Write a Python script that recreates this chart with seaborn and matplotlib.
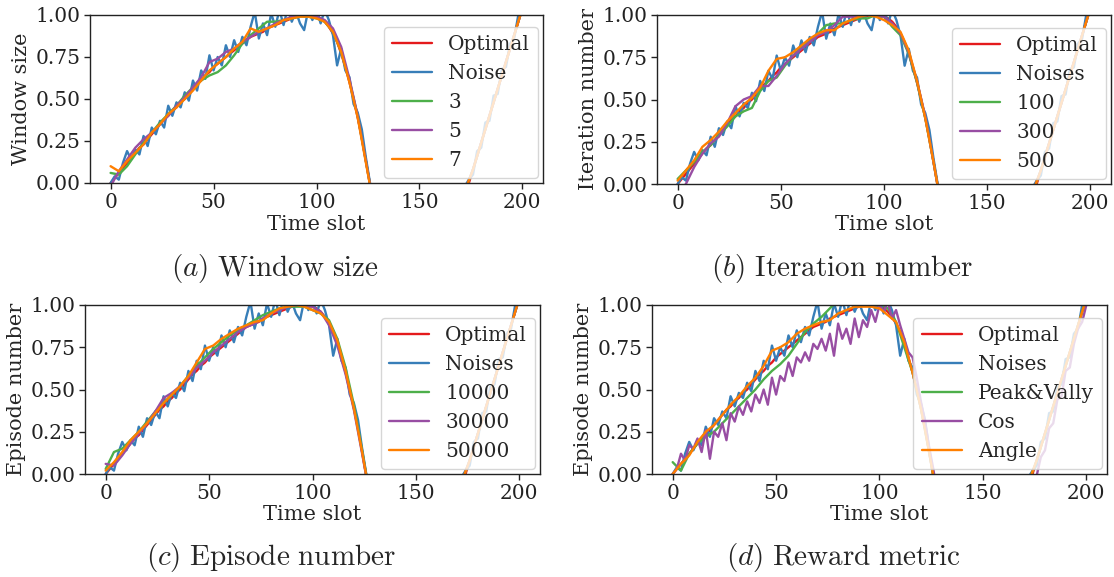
import numpy as np
import matplotlib
matplotlib.use("Agg")
import matplotlib.pyplot as plt
import seaborn as sns

# ---------------- data ----------------
x_fine = list(range(0, 201, 2))     # time slots for noisy series
x_coarse = list(range(0, 201, 4))   # time slots for smooth series

optimal = [0.00, 0.03, 0.06, 0.09, 0.12, 0.15, 0.18, 0.21, 0.23, 0.26,
           0.29, 0.32, 0.35, 0.38, 0.40, 0.43, 0.45, 0.48, 0.50, 0.53,
           0.56, 0.59, 0.61, 0.64, 0.66, 0.69, 0.71, 0.73, 0.75, 0.77,
           0.79, 0.81, 0.83, 0.85, 0.87, 0.88, 0.89, 0.90, 0.92, 0.93,
           0.94, 0.95, 0.96, 0.97, 0.98, 0.99, 0.995, 1.00, 1.00, 0.995,
           0.99, 0.98, 0.96, 0.93, 0.89, 0.84, 0.77, 0.69, 0.60, 0.50,
           0.39, 0.27, 0.13, -0.01, -0.15, -0.28, -0.40, -0.52, -0.62, -0.71,
           -0.79, -0.86, -0.91, -0.95, -0.97, -0.98, -0.97, -0.94, -0.89, -0.82,
           -0.73, -0.62, -0.50, -0.37, -0.24, -0.13, -0.05, 0.00, 0.08, 0.16,
           0.24, 0.32, 0.40, 0.48, 0.56, 0.64, 0.72, 0.80, 0.88, 0.96, 1.04]

noise = [0.00, 0.04, 0.02, 0.12, 0.19, 0.14, 0.20, 0.17, 0.28, 0.22,
         0.33, 0.29, 0.37, 0.33, 0.46, 0.40, 0.48, 0.45, 0.54, 0.49,
         0.61, 0.55, 0.67, 0.62, 0.76, 0.67, 0.75, 0.70, 0.82, 0.75,
         0.85, 0.78, 0.87, 0.82, 0.93, 1.02, 0.86, 0.95, 0.88, 1.01,
         0.93, 1.03, 0.94, 1.04, 0.96, 1.02, 0.95, 0.91, 1.03, 0.97,
         1.04, 0.95, 1.03, 0.97, 0.88, 0.70, 0.80, 0.67, 0.63, 0.47,
         0.42, 0.32, 0.15, 0.00, -0.13, -0.31, -0.38, -0.55, -0.60, -0.74,
         -0.77, -0.89, -0.89, -0.98, -0.95, -1.01, -0.95, -0.97, -0.86, -0.85,
         -0.70, -0.65, -0.47, -0.40, -0.21, -0.16, -0.02, 0.02, 0.05, 0.19,
         0.21, 0.36, 0.37, 0.52, 0.53, 0.68, 0.69, 0.83, 0.86, 1.00, 1.05]

# tail (x = 128..200 step 4) shared by smooth variants
tail = [-0.15, -0.40, -0.62, -0.79, -0.91, -0.97, -0.97, -0.89, -0.73, -0.50,
        -0.24, -0.05, 0.08, 0.24, 0.40, 0.56, 0.72, 0.88, 1.04]

win_3 = [0.06, 0.05, 0.10, 0.17, 0.24, 0.30, 0.36, 0.41, 0.46, 0.52, 0.57, 0.61, 0.64, 0.66, 0.70, 0.76,
         0.83, 0.88, 0.92, 0.96, 0.96, 0.97, 0.98, 0.99, 0.99, 0.98, 0.96, 0.90, 0.78, 0.61, 0.40, 0.13] + tail
win_5 = [-0.02, 0.07, 0.14, 0.21, 0.26, 0.30, 0.35, 0.40, 0.46, 0.51, 0.57, 0.63, 0.72, 0.74, 0.78, 0.80,
         0.84, 0.87, 0.90, 0.92, 0.95, 0.97, 0.99, 1.00, 1.00, 0.99, 0.97, 0.92, 0.81, 0.62, 0.40, 0.13] + tail
win_7 = [0.10, 0.07, 0.13, 0.18, 0.23, 0.30, 0.35, 0.41, 0.45, 0.50, 0.55, 0.61, 0.67, 0.71, 0.75, 0.80,
         0.84, 0.92, 0.90, 0.92, 0.94, 0.97, 0.98, 0.99, 0.99, 0.98, 0.96, 0.90, 0.78, 0.60, 0.39, 0.12] + tail

it_100 = [0.03, 0.08, 0.13, 0.19, 0.23, 0.29, 0.34, 0.40, 0.43, 0.45, 0.55, 0.61, 0.63, 0.70, 0.76, 0.81,
          0.85, 0.89, 0.94, 0.95, 0.95, 0.97, 0.98, 0.98, 1.00, 0.99, 0.93, 0.88, 0.77, 0.60, 0.39, 0.13] + tail
it_300 = [-0.05, 0.00, 0.10, 0.18, 0.24, 0.28, 0.36, 0.46, 0.50, 0.52, 0.58, 0.58, 0.64, 0.71, 0.76, 0.80,
          0.84, 0.88, 0.90, 0.94, 0.99, 0.99, 0.99, 1.00, 1.00, 0.99, 0.95, 0.89, 0.78, 0.61, 0.40, 0.13] + tail
it_500 = [0.02, 0.08, 0.14, 0.22, 0.26, 0.31, 0.37, 0.42, 0.47, 0.51, 0.57, 0.67, 0.74, 0.75, 0.78, 0.82,
          0.86, 0.89, 0.91, 0.91, 0.95, 0.97, 0.99, 1.00, 0.99, 0.97, 0.94, 0.90, 0.79, 0.61, 0.39, 0.13] + tail

ep_10000 = [0.03, 0.13, 0.15, 0.20, 0.25, 0.31, 0.37, 0.42, 0.47, 0.52, 0.58, 0.64, 0.69, 0.74, 0.78, 0.82,
            0.85, 0.88, 0.91, 0.94, 0.96, 0.98, 0.99, 0.99, 0.99, 0.97, 0.95, 0.91, 0.80, 0.63, 0.41, 0.14] + tail
ep_30000 = [0.06, 0.05, 0.11, 0.18, 0.24, 0.30, 0.37, 0.45, 0.48, 0.52, 0.57, 0.63, 0.67, 0.72, 0.76, 0.80,
            0.84, 0.87, 0.89, 0.92, 0.95, 0.97, 0.99, 1.00, 1.00, 0.99, 0.96, 0.88, 0.76, 0.59, 0.38, 0.12] + tail
ep_50000 = [0.02, 0.07, 0.13, 0.20, 0.25, 0.30, 0.36, 0.42, 0.47, 0.52, 0.58, 0.66, 0.74, 0.76, 0.80, 0.83,
            0.86, 0.88, 0.90, 0.91, 0.95, 0.98, 0.99, 1.00, 0.99, 0.97, 0.95, 0.90, 0.79, 0.61, 0.39, 0.13] + tail

rw_peak = [0.07, 0.02, 0.12, 0.18, 0.22, 0.25, 0.30, 0.35, 0.40, 0.45, 0.50, 0.56, 0.61, 0.65, 0.70, 0.77,
           0.84, 0.89, 0.93, 0.98, 1.03, 1.04, 1.03, 1.02, 1.01, 1.01, 0.98, 0.90, 0.75, 0.60, 0.39, 0.13] + tail
rw_angle = [0.00, 0.06, 0.11, 0.19, 0.25, 0.29, 0.35, 0.41, 0.46, 0.52, 0.57, 0.64, 0.73, 0.75, 0.78, 0.83,
            0.86, 0.88, 0.90, 0.91, 0.95, 0.97, 0.99, 0.99, 0.99, 0.98, 0.94, 0.90, 0.78, 0.60, 0.39, 0.13] + tail
rw_cos = [0.00, 0.03, 0.12, 0.08, 0.17, 0.15, 0.21, 0.13, 0.26, 0.09,
          0.25, 0.22, 0.30, 0.20, 0.36, 0.31, 0.40, 0.35, 0.43, 0.37,
          0.47, 0.42, 0.50, 0.41, 0.57, 0.47, 0.58, 0.55, 0.66, 0.58,
          0.69, 0.66, 0.72, 0.67, 0.77, 0.74, 0.80, 0.73, 0.83, 0.70,
          0.89, 0.80, 0.86, 0.77, 0.92, 0.81, 0.91, 0.87, 0.97, 0.90,
          1.00, 0.96, 1.02, 0.92, 0.97, 0.88, 0.80, 0.72, 0.69, 0.57,
          0.43, 0.31, 0.16, 0.03,
          -0.12, -0.30, -0.39, -0.55, -0.61, -0.73, -0.78, -0.88, -0.90, -0.97,
          -0.96, -1.00, -0.96, -0.96, -0.88, -0.85, -0.72, -0.66, -0.50, -0.42,
          -0.27, -0.20, -0.10, -0.06, -0.01, 0.10, 0.14, 0.27, 0.30, 0.44,
          0.46, 0.61, 0.63, 0.77, 0.86, 0.90, 1.00]

panels = [
    dict(ylabel="Window size", caption=r"$(a)\ \mathrm{Window\ size}$", noise_label="Noise",
         labels=["3", "5", "7"], series=[(x_coarse, win_3), (x_coarse, win_5), (x_coarse, win_7)]),
    dict(ylabel="Iteration number", caption=r"$(b)\ \mathrm{Iteration\ number}$", noise_label="Noises",
         labels=["100", "300", "500"], series=[(x_coarse, it_100), (x_coarse, it_300), (x_coarse, it_500)]),
    dict(ylabel="Episode number", caption=r"$(c)\ \mathrm{Episode\ number}$", noise_label="Noises",
         labels=["10000", "30000", "50000"], series=[(x_coarse, ep_10000), (x_coarse, ep_30000), (x_coarse, ep_50000)]),
    dict(ylabel="Episode number", caption=r"$(d)\ \mathrm{Reward\ metric}$", noise_label="Noises",
         labels=["Peak&Vally", "Cos", "Angle"], series=[(x_coarse, rw_peak), (x_fine, rw_cos), (x_coarse, rw_angle)]),
]

colors = ["#e41a1c", "#377eb8", "#4daf4a", "#984ea3", "#ff7f00"]

# ---------------- style ----------------
sns.set_theme(style="ticks")
plt.rcParams["font.family"] = ["DejaVu Serif"]
plt.rcParams["mathtext.fontset"] = "cm"
plt.rcParams["axes.edgecolor"] = "#222222"
plt.rcParams["xtick.color"] = "#222222"
plt.rcParams["ytick.color"] = "#222222"

W, H = 1114, 577
fig = plt.figure(figsize=(W / 100, H / 100), dpi=100)

# axes boxes in pixels: left, top, right, bottom
boxes = [(90, 15, 543, 183), (657, 15, 1111, 184), (85, 305, 540, 474), (652, 305, 1107, 474)]
caps = [(275, 268), (842, 268), (271, 558), (843, 558)]

for p, (l, t, r, b), (cx, cy) in zip(panels, boxes, caps):
    ax = fig.add_axes([l / W, 1 - b / H, (r - l) / W, (b - t) / H])
    lw = 1.7
    sns.lineplot(x=x_fine, y=optimal, ax=ax, color=colors[0], lw=lw, label="Optimal")
    sns.lineplot(x=x_fine, y=noise, ax=ax, color=colors[1], lw=lw, label=p["noise_label"])
    for (xs, ys), lab, c in zip(p["series"], p["labels"], colors[2:]):
        sns.lineplot(x=xs, y=ys, ax=ax, color=c, lw=lw, label=lab)
    ax.set_ylim(0, 1)
    ax.set_xlim(-10, 210)
    ax.set_xticks([0, 50, 100, 150, 200])
    ax.set_yticks([0, 0.25, 0.5, 0.75, 1.0])
    ax.set_yticklabels(["0.00", "0.25", "0.50", "0.75", "1.00"])
    ax.tick_params(labelsize=14.5, length=4, width=1, pad=3)
    ax.set_xlabel("Time slot", fontsize=15, labelpad=2)
    ax.set_ylabel(p["ylabel"], fontsize=15, labelpad=3)
    for s in ax.spines.values():
        s.set_linewidth(1.0)
    ax.legend(loc="lower right", fontsize=14.5, framealpha=0.8, edgecolor="0.8",
              fancybox=True, borderaxespad=0.25, handlelength=2.0)
    fig.text(cx / W, 1 - cy / H, p["caption"], fontsize=21, ha="center", va="center")

fig.savefig("out.png", dpi=100)
